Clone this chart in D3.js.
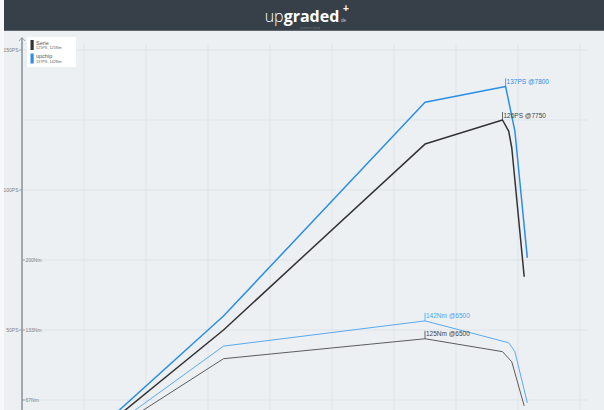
<!DOCTYPE html>
<html><head><meta charset="utf-8">
<script src="https://cdn.jsdelivr.net/npm/d3@7"></script>
<style>
html,body{margin:0;padding:0;background:#f7f8fa;}
svg{display:block;font-family:"Liberation Sans",Arial,sans-serif;}
</style></head>
<body>
<svg id="c" width="604" height="410"></svg>
<script>
// ---- data ----
const seriesNames = ["Serie", "upchip"];
const seriesSub = ["125PS, 125Nm", "137PS, 142Nm"];
const rpmSeriePS = [1000, 3250, 6500, 7750, 7850, 7900, 8100];
const psSerie    = [9.4, 50, 116.4, 125, 121, 115, 69];
const rpmSerieNm = [1000, 3250, 6500, 7750, 7900, 8100];
const nmSerie    = [20.8, 106, 125, 112.7, 103, 61];
const rpmUpPS    = [1000, 3250, 6500, 7800, 7950, 8150];
const psUp       = [10, 55, 131.3, 137, 121, 75.8];
const rpmUpNm    = [1000, 3250, 6500, 7850, 7950, 8150];
const nmUp       = [21.8, 118, 142, 121.2, 112.7, 64];
const psTicks = [50, 100, 150];
const nmTicks = [66.67, 133.33, 200];
const nmTickLabels = ["67Nm", "133Nm", "200Nm"];
const rpmGrid = [1000,2000,3000,4000,5000,6000,7000,8000,9000];
const nmGrid = [66.67,133.33,200,266.67,333.33,400];
const peaks = [
  {rpm: 7750, v: 125, unit: "PS", text: "126PS @7750", s: 0},
  {rpm: 7800, v: 137, unit: "PS", text: "137PS @7800", s: 1},
  {rpm: 6500, v: 125, unit: "Nm", text: "125Nm @6500", s: 0},
  {rpm: 6500, v: 142, unit: "Nm", text: "142Nm @6500", s: 1}
];

const svg = d3.select("#c");
const W = 604, H = 410;
const x = d3.scaleLinear().domain([0, 9000]).range([22, 580]);
const yPS = d3.scaleLinear().domain([0, 150]).range([470, 50]);
const yNm = d3.scaleLinear().domain([0, 400]).range([470, 50]);

// background
svg.append("rect").attr("x",4).attr("y",0).attr("width",W-4).attr("height",H).attr("fill","#ecf0f3");

// grid
const g = svg.append("g");
g.selectAll("line.v").data(rpmGrid).enter().append("line")
  .attr("x1",d=>x(d)).attr("x2",d=>x(d)).attr("y1",44).attr("y2",H)
  .attr("stroke","#dfe4e9").attr("stroke-width",1);
g.selectAll("line.h").data(nmGrid).enter().append("line")
  .attr("x1",22).attr("x2",587).attr("y1",d=>yNm(d)).attr("y2",d=>yNm(d))
  .attr("stroke","#dfe4e9").attr("stroke-width",1);

// lines
const colors = {
  serPS: "#333333", serNm: "#5c5c5c", upPS: "#2b8ee6", upNm: "#5aaaf0"
};
function drawLine(rpms, vals, yS, color, w){
  const pts = rpms.map((r,i)=>[r, vals[i]]);
  svg.append("path").datum(pts)
    .attr("d", d3.line().x(d=>x(d[0])).y(d=>yS(d[1])))
    .attr("fill","none").attr("stroke",color).attr("stroke-width",w)
    .attr("stroke-linejoin","round");
}
drawLine(rpmSerieNm, nmSerie, yNm, colors.serNm, 1);
drawLine(rpmUpNm, nmUp, yNm, colors.upNm, 1);
drawLine(rpmSeriePS, psSerie, yPS, colors.serPS, 1.5);
drawLine(rpmUpPS, psUp, yPS, colors.upPS, 1.5);

// peak labels
peaks.forEach(p=>{
  const yS = p.unit === "PS" ? yPS : yNm;
  const px = x(p.rpm), py = yS(p.v);
  const col = p.s ? (p.unit === "PS" ? "#2b8ee6" : "#4da3f0") : "#444";
  svg.append("line").attr("x1",px).attr("x2",px).attr("y1",py).attr("y2",py-8)
    .attr("stroke",col).attr("stroke-width",0.8);
  svg.append("text").attr("x",px+1).attr("y",py-2.5).text(p.text)
    .attr("font-size",6.5).attr("fill",col);
});

// y axis
svg.append("line").attr("x1",22).attr("x2",22).attr("y1",38).attr("y2",H)
  .attr("stroke","#a3a8b0").attr("stroke-width",2);
svg.append("path").attr("d","M19,41 L22,37.5 L25,41").attr("fill","none")
  .attr("stroke","#8d939b").attr("stroke-width",0.8);
const ax = svg.append("g");
psTicks.forEach(v=>{
  ax.append("line").attr("x1",19).attr("x2",22).attr("y1",yPS(v)).attr("y2",yPS(v)).attr("stroke","#8d939b").attr("stroke-width",0.8);
  ax.append("text").attr("x",18.5).attr("y",yPS(v)+1.8).attr("text-anchor","end")
    .attr("font-size",5).attr("fill","#7d838b").text(v+"PS");
});
nmTicks.forEach((v,i)=>{
  ax.append("line").attr("x1",22).attr("x2",25).attr("y1",yNm(v)).attr("y2",yNm(v)).attr("stroke","#8d939b").attr("stroke-width",0.8);
  ax.append("text").attr("x",25.5).attr("y",yNm(v)+1.8)
    .attr("font-size",5).attr("fill","#7d838b").text(nmTickLabels[i]);
});

// legend
const lg = svg.append("g");
lg.append("rect").attr("x",27).attr("y",37).attr("width",49).attr("height",30).attr("fill","#ffffff");
const swCol = ["#333333", "#2b8ee6"];
seriesNames.forEach((n,i)=>{
  const y0 = 40 + i*13.5;
  lg.append("rect").attr("x",30.5).attr("y",y0).attr("width",3.2).attr("height",10).attr("fill",swCol[i]);
  lg.append("text").attr("x",36).attr("y",y0+4.5).attr("font-size",5.5).attr("fill","#555").text(n);
  lg.append("text").attr("x",36).attr("y",y0+9).attr("font-size",3.8).attr("fill","#666").text(seriesSub[i]);
});

// header
svg.append("rect").attr("x",4).attr("y",0).attr("width",W-4).attr("height",30).attr("fill","#373f49");
svg.append("rect").attr("x",4).attr("y",30).attr("width",W-4).attr("height",1).attr("fill","#5f666f");
const logo = svg.append("text").attr("x",302).attr("y",22).attr("text-anchor","middle")
  .attr("font-family","'Open Sans',Arial,sans-serif").attr("font-size",16).attr("fill","#ffffff");
logo.append("tspan").attr("font-weight",300).text("up");
logo.append("tspan").attr("font-weight",700).text("graded");
svg.append("text").attr("x",341).attr("y",22).attr("font-size",4.5).attr("fill","#c9cdd2").text("de");
svg.append("text").attr("x",346).attr("y",12).attr("font-size",10).attr("font-weight",700).attr("fill","#ffffff").attr("text-anchor","middle").text("+");
svg.append("text").attr("x",310).attr("y",29.3).attr("font-size",2.6).attr("fill","#6d747d").attr("text-anchor","middle").text("automotive group");
</script>
</body></html>
